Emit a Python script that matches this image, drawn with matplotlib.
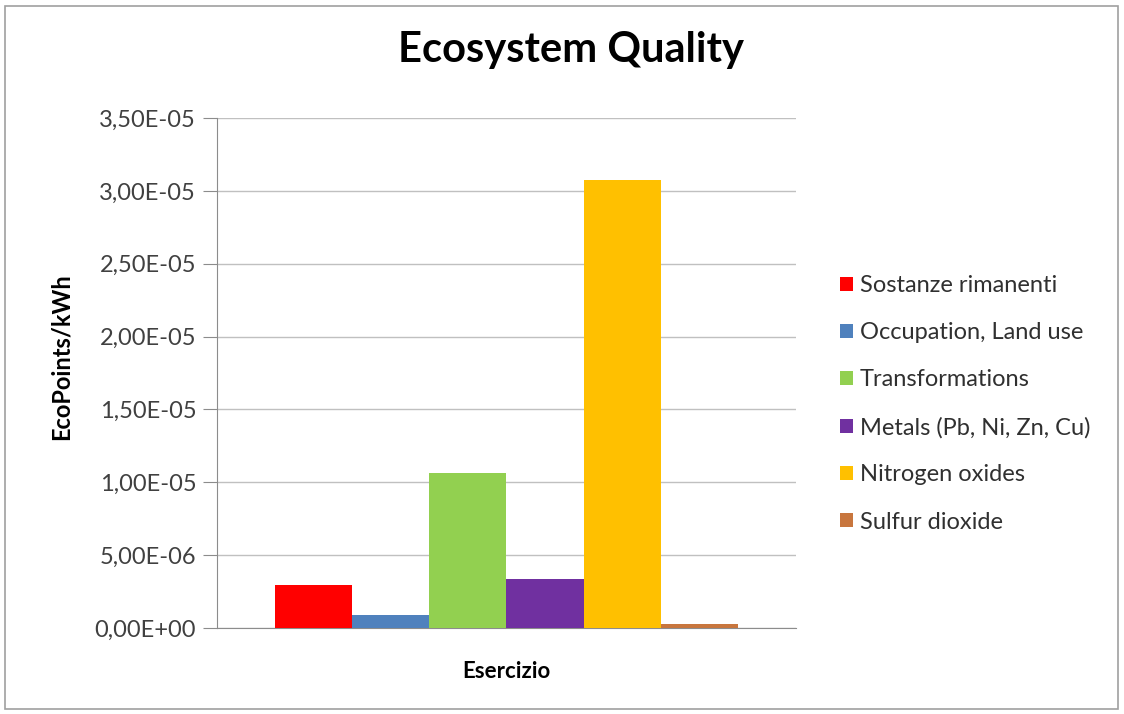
import matplotlib.pyplot as plt
from matplotlib.patches import Rectangle
from matplotlib.ticker import FuncFormatter

plt.rcParams['font.family'] = ['Lato', 'DejaVu Sans']

# dati
categorie = ['Sostanze rimanenti', 'Occupation, Land use', 'Transformations',
             'Metals (Pb, Ni, Zn, Cu)', 'Nitrogen oxides', 'Sulfur dioxide']
valori = [2.93e-6, 0.87e-6, 1.065e-5, 3.34e-6, 3.077e-5, 0.30e-6]
colori = ['#FF0000', '#4F81BD', '#92D050', '#7030A0', '#FFC000', '#C8763E']
y_ticks = [0, 5e-6, 1e-5, 1.5e-5, 2e-5, 2.5e-5, 3e-5, 3.5e-5]

W, H = 1124, 714
fig = plt.figure(figsize=(W / 100, H / 100), dpi=100)
ax = fig.add_axes([217 / W, 1 - 628 / H, 579 / W, 510 / H])

# bordo esterno grigio
fig.patches.append(Rectangle((5 / W, 5 / H), 1113 / W, 703 / H,
                             transform=fig.transFigure, fill=False,
                             edgecolor='#A0A0A0', linewidth=1.2))

n = len(valori)
w = 0.8 / n
for i, (cat, v, c) in enumerate(zip(categorie, valori, colori)):
    x = -0.4 + w * (i + 0.5)
    ax.bar(x, v, width=w, color=c, label=cat, zorder=3)

ax.set_xlim(-0.5, 0.5)
ax.set_ylim(0, 3.5e-5)
ax.set_yticks(y_ticks)


def fmt(v, pos):
    return ('%.2E' % v).replace('.', ',')


ax.yaxis.set_major_formatter(FuncFormatter(fmt))
ax.set_xticks([])
ax.grid(axis='y', color='#C0C0C0', linewidth=1.0, zorder=0)

for s in ['top', 'right']:
    ax.spines[s].set_visible(False)
ax.spines['left'].set_color('#8C8C8C')
ax.spines['bottom'].set_color('#8C8C8C')
ax.tick_params(axis='y', direction='out', length=10, color='#8C8C8C',
               labelsize=17, labelcolor='#404040', pad=5)

ax.set_ylabel('EcoPoints/kWh', fontsize=17, fontweight='bold', va='center')
ax.yaxis.set_label_coords((61 - 217) / 579, (628 - 357) / 510)
ax.set_xlabel('Esercizio', fontsize=16, fontweight='bold', va='center')
ax.xaxis.set_label_coords(0.5, (628 - 672) / 510)

fig.text(571 / W, 1 - 62 / H, 'Ecosystem Quality', fontsize=30,
         fontweight='bold', ha='center', va='baseline')

leg = fig.legend(loc='upper left', bbox_to_anchor=(840 / W, 1 - 275 / H),
                 frameon=False, fontsize=17, labelspacing=1.11,
                 borderpad=0, borderaxespad=0,
                 handlelength=0.55, handleheight=0.55, handletextpad=0.3,
                 labelcolor='#303030')

plt.savefig('out.png', dpi=100)
